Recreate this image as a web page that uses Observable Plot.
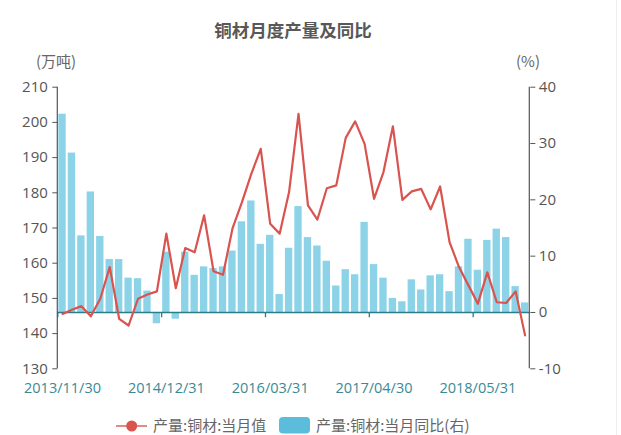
<!DOCTYPE html>
<html>
<head>
<meta charset="utf-8">
<script src="https://cdn.jsdelivr.net/npm/d3@7"></script>
<script src="https://cdn.jsdelivr.net/npm/@observablehq/plot@0.6"></script>
<style>
  html, body { margin: 0; padding: 0; background: #fff; }
  #wrap { position: relative; width: 621px; height: 435px; overflow: hidden; font-family: "Open Sans", "Noto Sans CJK SC", sans-serif; }
  #edge { position: absolute; left: 616px; top: 0; width: 1px; height: 435px; background: #eeeeee; }
  .abs { position: absolute; white-space: nowrap; line-height: 1; }
  #title { left: 0; width: 586px; top: 21px; text-align: center; font-size: 17.5px; font-weight: bold; color: #585858; font-family: "Noto Sans CJK SC", sans-serif; }
  .unit { top: 53px; font-size: 15px; color: #666; font-family: "Noto Sans CJK SC", sans-serif; }
  .leg { top: 417px; font-size: 15px; color: #666; font-family: "Noto Sans CJK SC", sans-serif; }
</style>
</head>
<body>
<div id="wrap">
  <div id="chart"></div>
  <div id="edge"></div>
  <div id="title" class="abs">铜材月度产量及同比</div>
  <div class="abs unit" style="left:36px">(万吨)</div>
  <div class="abs unit" style="left:516px">(%)</div>
  <svg class="abs" style="left:112px;top:418px" width="40" height="16">
    <line x1="4" y1="8" x2="35" y2="8" stroke="#e06b66" stroke-width="1.6"/>
    <circle cx="19.7" cy="8" r="5.5" fill="#d9534f"/>
  </svg>
  <div class="abs leg" style="left:153px">产量:铜材:当月值</div>
  <svg class="abs" style="left:279px;top:417px" width="32" height="17">
    <rect x="0" y="0" width="31" height="16.5" rx="4" fill="#5bbcdc"/>
  </svg>
  <div class="abs leg" style="left:316px">产量:铜材:当月同比(右)</div>
</div>
<script>
// Categories (month-end dates; Jan/Feb not reported)
const dates = [
  "2013/11/30","2013/12/31",
  "2014/03/31","2014/04/30","2014/05/31","2014/06/30","2014/07/31","2014/08/31","2014/09/30","2014/10/31","2014/11/30","2014/12/31",
  "2015/03/31","2015/04/30","2015/05/31","2015/06/30","2015/07/31","2015/08/31","2015/09/30","2015/10/31","2015/11/30","2015/12/31",
  "2016/03/31","2016/04/30","2016/05/31","2016/06/30","2016/07/31","2016/08/31","2016/09/30","2016/10/31","2016/11/30","2016/12/31",
  "2017/03/31","2017/04/30","2017/05/31","2017/06/30","2017/07/31","2017/08/31","2017/09/30","2017/10/31","2017/11/30","2017/12/31",
  "2018/03/31","2018/04/30","2018/05/31","2018/06/30","2018/07/31","2018/08/31","2018/09/30","2018/10/31"
];
// 产量:铜材:当月值 (万吨)
const output = [
  145.6,146.8,147.8,144.9,149.9,158.9,144.2,142.3,149.9,151.1,
  152.0,168.4,152.9,164.3,163.1,173.6,157.7,156.7,169.8,177.3,
  185.4,192.5,171.2,168.4,180.2,202.4,176.4,172.4,181.3,182.1,
  195.6,200.3,193.9,178.3,185.9,198.9,178.0,180.4,181.1,175.3,
  181.8,166.0,158.9,153.7,148.5,157.4,148.9,148.7,152.0,139.5
];
// 产量:铜材:当月同比 (%)
const yoy = [
  35.2,28.3,13.6,21.4,13.5,9.4,9.4,6.1,6.0,3.8,
  -2.0,10.7,-1.2,10.7,6.6,8.1,7.8,8.1,10.9,16.1,
  19.8,12.1,13.7,3.2,11.4,18.8,13.3,11.8,9.1,4.7,
  7.6,6.7,16.0,8.5,6.1,2.5,1.9,5.8,4.0,6.5,
  6.7,3.7,8.1,13.0,7.5,12.8,14.8,13.3,4.6,1.7
];
const xTickLabels = ["2013/11/30","2014/12/31","2016/03/31","2017/04/30","2018/05/31"];
const leftTicks = [130,140,150,160,170,180,190,200,210];
const rightTicks = [-10,0,10,20,30,40];
const leftDomain = [130, 210];
const rightDomain = [-10, 40];

// map right-axis (%) value into left-axis units
const toLeft = p => leftDomain[0] + (p - rightDomain[0]) * (leftDomain[1] - leftDomain[0]) / (rightDomain[1] - rightDomain[0]);
const fromLeft = v => rightDomain[0] + (v - leftDomain[0]) * (rightDomain[1] - rightDomain[0]) / (leftDomain[1] - leftDomain[0]);
const zeroLeft = toLeft(0);

const rows = dates.map((d, i) => ({date: d, output: output[i], yoy: yoy[i]}));

const teal = "#2c7c8a";
const axisGray = "#555";

function axisLines(index, scales, values, dim) {
  const g = d3.create("svg:g").attr("stroke", "#555").attr("stroke-width", 1.2).attr("fill", "none");
  const x0 = dim.marginLeft, x1 = dim.width - dim.marginRight;
  const y0 = dim.marginTop, y1 = dim.height - dim.marginBottom;
  g.append("line").attr("x1", x0).attr("x2", x0).attr("y1", y0).attr("y2", y1);
  g.append("line").attr("x1", x1).attr("x2", x1).attr("y1", y0).attr("y2", y1);
  return g.node();
}

const bw = (621 - 57.3 - 91.7) / dates.length;

const chart = Plot.plot({
  width: 621,
  height: 435,
  marginTop: 86.7,
  marginBottom: 66.7,
  marginLeft: 57.3,
  marginRight: 91.7,
  style: {fontFamily: '"Open Sans", "Noto Sans CJK SC", sans-serif', fontSize: "15px", background: "transparent"},
  x: {type: "band", domain: dates, paddingInner: 0.22, paddingOuter: 0.11, round: false},
  y: {domain: leftDomain},
  marks: [
    Plot.barY(rows, {x: "date", y1: () => zeroLeft, y2: d => toLeft(d.yoy), fill: "#5bc0de", fillOpacity: 0.7}),
    Plot.ruleY([zeroLeft], {stroke: teal, strokeWidth: 1.3}),
    Plot.ruleX(xTickLabels, {x: d => d, y1: zeroLeft, y2: zeroLeft - 1.5, dx: -bw / 2, stroke: teal, strokeWidth: 1.3}),
    Plot.line(rows, {x: "date", y: "output", stroke: "#d9534f", strokeWidth: 2.2}),
    axisLines,
    Plot.axisY({anchor: "left", label: null, ticks: leftTicks, tickSize: 5, tickPadding: 5, color: axisGray, fontSize: 15}),
    Plot.axisY({anchor: "right", label: null, ticks: rightTicks.map(toLeft), tickFormat: v => String(Math.round(fromLeft(v))), tickSize: 5, tickPadding: 4, color: axisGray, fontSize: 15}),
    Plot.axisX({label: null, ticks: xTickLabels, tickSize: 0, tickPadding: 13.5, color: "#3a8a96", fontSize: 14.5})
  ]
});
document.getElementById("chart").appendChild(chart);
</script>
</body>
</html>
